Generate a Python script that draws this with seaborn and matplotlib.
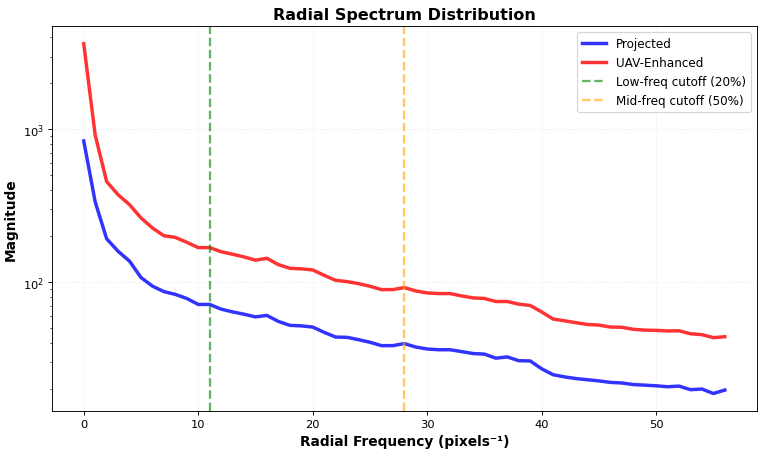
import numpy as np
import pandas as pd
import matplotlib
matplotlib.use("Agg")
import matplotlib.pyplot as plt
import seaborn as sns

# radial frequency bins
freq = list(range(57))

projected = [840, 335, 192, 159, 137, 107, 94, 86.5, 83, 78,
             71.3, 71.3, 66.4, 63.7, 61.5, 59.1, 60.4, 55.2, 52, 51.6,
             50.7, 46.8, 43.6, 43.4, 41.9, 40.3, 38.3, 38.3, 39.5, 37.5,
             36.4, 36, 36, 35, 34, 33.7, 31.7, 32.3, 30.5, 30.4,
             27, 24.7, 23.9, 23.3, 22.9, 22.5, 22, 21.8, 21.3, 21.1,
             20.9, 20.6, 20.8, 19.7, 19.9, 18.6, 19.6]

uav_enhanced = [3640, 918, 455, 373, 321, 263, 226, 201, 196, 182,
                168, 168, 158, 152, 146, 139, 143, 130, 123, 122,
                120, 110.6, 102.6, 100.6, 97.6, 93.8, 89.2, 89.2, 91.9, 87.4,
                84.8, 84, 84, 81.1, 78.7, 78, 74.5, 74.5, 71.6, 70.2,
                63.7, 57.2, 55.7, 54.1, 52.7, 52.2, 50.7, 50.5, 49, 48.4,
                48.2, 47.8, 47.9, 45.8, 45.2, 43.2, 43.8]

low_cutoff = 11
mid_cutoff = 28

df = pd.DataFrame({"freq": freq, "Projected": projected, "UAV-Enhanced": uav_enhanced})

fig, ax = plt.subplots(figsize=(9.2, 5.484), dpi=82.6)

sns.lineplot(data=df, x="freq", y="Projected", color="blue", alpha=0.8,
             linewidth=3, label="Projected", ax=ax)
sns.lineplot(data=df, x="freq", y="UAV-Enhanced", color="red", alpha=0.8,
             linewidth=3, label="UAV-Enhanced", ax=ax)

ax.axvline(low_cutoff, color="green", linestyle="--", linewidth=2, alpha=0.6,
           label="Low-freq cutoff (20%)")
ax.axvline(mid_cutoff, color="orange", linestyle="--", linewidth=2, alpha=0.6,
           label="Mid-freq cutoff (50%)")

ax.set_yscale("log")
ax.set_title("Radial Spectrum Distribution", fontsize=14, fontweight="bold")
ax.set_xlabel("Radial Frequency (pixels⁻¹)", fontsize=12, fontweight="bold")
ax.set_ylabel("Magnitude", fontsize=12, fontweight="bold")
ax.grid(True, linestyle=":", alpha=0.3)
ax.legend(fontsize=10.5, loc="upper right")

fig.subplots_adjust(left=0.068, right=0.996, top=0.940, bottom=0.0905)
plt.savefig("out.png", dpi=82.6)
